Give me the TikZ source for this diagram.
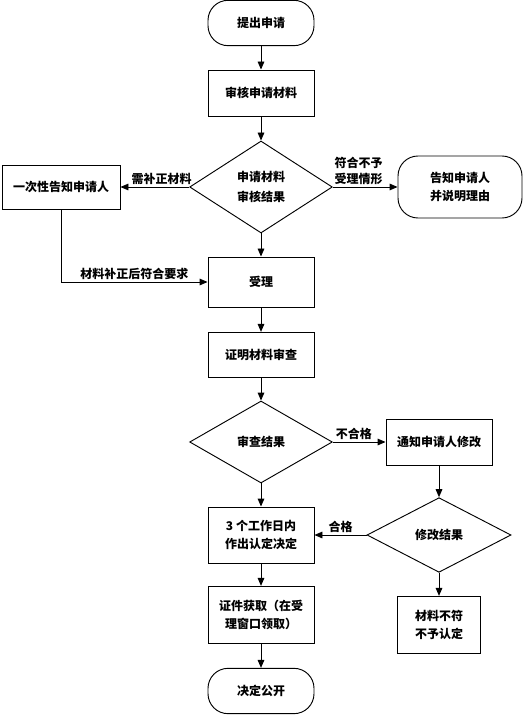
\documentclass[tikz,border=0pt]{standalone}
\usepackage{fontspec}
\setmainfont{Noto Sans CJK SC}
\usetikzlibrary{arrows.meta,shapes.geometric}

\begin{document}
\begin{tikzpicture}[
  x=0.75pt, y=-0.75pt,
  every node/.style={font=\fontsize{9}{13.5}\selectfont\bfseries},
  box/.style={draw, line width=0.7pt, align=center, inner sep=2pt, minimum width=79.5pt},
  procbox/.style={box},
  termbox/.style={box, rounded corners=15pt},
  decbox/.style={box, diamond, inner sep=0pt, minimum width=107pt},
  flow/.style={-{Triangle[length=6pt, width=5pt]}, line width=0.7pt},
  edgelabel/.style={font=\fontsize{9}{12}\selectfont\bfseries, inner sep=1.5pt, align=center}
]
\useasboundingbox (0,0) rectangle (523,716);

\node[termbox, minimum height=34pt] (start) at (261,23) {提出申请};
\node[procbox, minimum height=34.5pt] (check) at (261,93) {审核申请材料};
\node[decbox, minimum height=69pt, font=\fontsize{9}{15}\selectfont\bfseries] (res1) at (261,187) {申请材料\\审核结果};
\node[procbox, minimum width=88.5pt, minimum height=33pt] (once) at (61,187) {一次性告知申请人};
\node[termbox, minimum width=93pt, minimum height=46.5pt] (refuse) at (460,187) {告知申请人\\并说明理由};
\node[procbox, minimum height=37.5pt] (accept) at (261,282) {受理};
\node[procbox, minimum height=34pt] (review) at (261,355) {证明材料审查};
\node[decbox, minimum height=61.5pt] (res2) at (261,442) {审查结果};
\node[procbox, minimum height=34.5pt] (modify) at (439,442) {通知申请人修改};
\node[decbox, minimum width=108pt, minimum height=56pt] (res3) at (439,535) {修改结果};
\node[procbox, minimum height=42pt] (decide) at (261,535) {3 个工作日内\\作出认定决定};
\node[procbox, minimum width=62pt, minimum height=43pt] (reject) at (439,625) {材料不符\\不予认定};
\node[procbox, minimum height=43pt] (cert) at (261,615) {证件获取（在受\\理窗口领取）};
\node[termbox, minimum height=34pt] (publish) at (261,691) {决定公开};

\draw[flow] (start) -- (check);
\draw[flow] (check) -- (res1);
\draw[flow] (res1) -- node[pos=0.4, above, edgelabel] {需补正材料} (once);
\draw[flow] (res1) -- node[pos=0.4, above, edgelabel] {符合不予\\受理情形} (refuse);
\draw[flow] (res1) -- (accept);
\draw[flow] (once) |- node[pos=0.75, above, edgelabel] {材料补正后符合要求} (accept);
\draw[flow] (accept) -- (review);
\draw[flow] (review) -- (res2);
\draw[flow] (res2) -- node[pos=0.4, above, edgelabel] {不合格} (modify);
\draw[flow] (modify) -- (res3);
\draw[flow] (res3) -- node[midway, above, edgelabel] {合格} (decide);
\draw[flow] (res3) -- (reject);
\draw[flow] (res2) -- (decide);
\draw[flow] (decide) -- (cert);
\draw[flow] (cert) -- (publish);

\end{tikzpicture}
\end{document}
